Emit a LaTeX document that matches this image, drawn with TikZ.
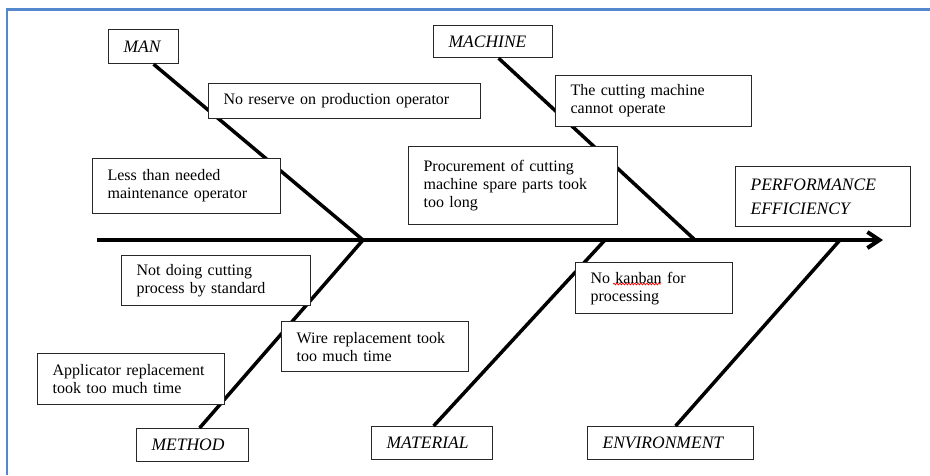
\documentclass[tikz,border=0pt]{standalone}
\usepackage{fontspec}
\setmainfont{Liberation Serif}
\usetikzlibrary{arrows.meta,decorations.pathmorphing}

\definecolor{framecol}{RGB}{84,135,205}
\definecolor{boxline}{RGB}{40,40,40}

\tikzset{
  cause/.style={draw=boxline, line width=1.2pt, fill=white, anchor=north west,
    inner xsep=15pt, inner ysep=0pt, align=left,
    font=\fontsize{16}{18}\selectfont},
  category/.style={cause, font=\itshape\fontsize{17.5}{24}\selectfont},
  bone/.style={line width=3.5pt},
  spine/.style={line width=4pt,
    -{Straight Barb[length=12pt, width=16pt, line width=4pt]}},
  spellmark/.style={red, line width=0.7pt,
    decorate, decoration={snake, amplitude=0.9pt, segment length=3pt}},
}

\begin{document}
\begin{tikzpicture}[x=1pt, y=-1pt]
  \useasboundingbox (0,0) rectangle (930,475);

  % page frame (top and left edges only)
  \draw[framecol, line width=2.2pt] (6.8,475) -- (6.8,9.5) -- (930,9.5);

  % junctions on the spine
  \coordinate (tail) at (97,240);
  \coordinate (head) at (883,240);
  \coordinate (jman) at (363,240);
  \coordinate (jmach) at (695,240);
  \coordinate (jmat) at (605,240);
  \coordinate (jenv) at (840,240);

  % spine
  \draw[spine] (tail) -- (head);

  % category boxes
  \node[category, text width=40pt, minimum height=34pt] (man) at (108,29) {MAN};
  \node[category, text width=89pt, minimum height=32pt] (machine) at (433,25) {MACHINE};
  \node[category, text width=82pt, minimum height=33pt] (method) at (136,428) {METHOD};
  \node[category, text width=91pt, minimum height=33pt] (material) at (371,426) {MATERIAL};
  \node[category, text width=136pt, minimum height=33pt] (environment) at (587,426) {ENVIRONMENT};

  % bones
  \draw[bone] ([xshift=10pt]man.south) -- (jman);
  \draw[bone] ([xshift=5.5pt]machine.south) -- (jmach);
  \draw[bone] ([xshift=7pt]method.north) -- (jman);
  \draw[bone] ([xshift=1.5pt]material.north) -- (jmat);
  \draw[bone] ([xshift=5pt]environment.north) -- (jenv);

  % effect
  \node[category, text width=145pt, minimum height=60pt] (effect) at (735,166)
    {PERFORMANCE\\EFFICIENCY};

  % causes
  \node[cause, text width=242pt, minimum height=35pt] (reserve) at (208,83)
    {No reserve on production operator};
  \node[cause, text width=158pt, minimum height=55pt] (maint) at (92,158)
    {Less than needed\\maintenance operator};
  \node[cause, text width=166pt, minimum height=51pt] (cutting) at (555,75)
    {The cutting machine\\cannot operate};
  \node[cause, text width=179pt, minimum height=78pt] (procure) at (408,146)
    {Procurement of cutting\\machine spare parts took\\too long};
  \node[cause, text width=127pt, minimum height=51pt] (kanban) at (575,262)
    {No kanban for\\processing};
  \node[cause, text width=159pt, minimum height=50pt] (standard) at (121,255)
    {Not doing cutting\\process by standard};
  \node[cause, text width=157pt, minimum height=51pt] (applicator) at (37,353)
    {Applicator replacement\\took too much time};
  \node[cause, text width=157pt, minimum height=50pt] (wire) at (281,321)
    {Wire replacement took\\too much time};

  % spelling mark under "kanban"
  \draw[spellmark] ([xshift=38pt, yshift=-22pt]kanban.north west)
    -- ([xshift=86pt, yshift=-22pt]kanban.north west);
\end{tikzpicture}
\end{document}
